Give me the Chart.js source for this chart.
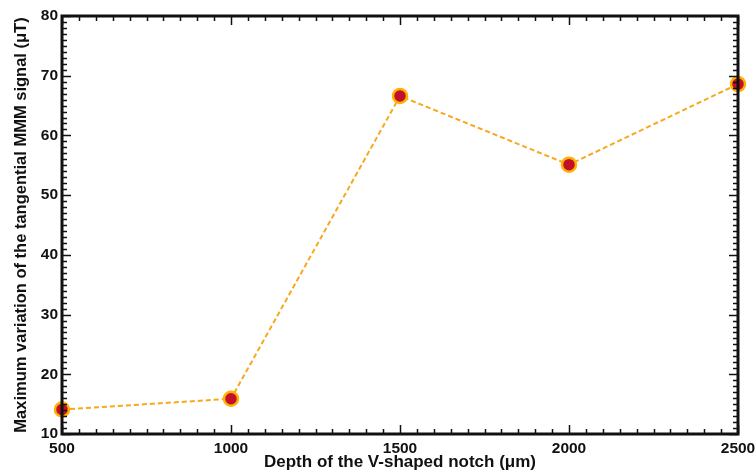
<!DOCTYPE html>
<html>
<head>
<meta charset="utf-8">
<script src="https://cdn.jsdelivr.net/npm/chart.js@4.4.0/dist/chart.umd.min.js"></script>
<style>
  html, body { margin: 0; padding: 0; background: #fff; }
  #box { width: 756px; height: 473px; }
</style>
</head>
<body>
<div id="box"><canvas id="grafico"></canvas></div>
<script>
// valores
const profundidades = [500, 1000, 1500, 2000, 2500];
const sinalMMM = [14.1, 15.9, 66.6, 55.1, 68.6];
const ticksX = [500, 1000, 1500, 2000, 2500];
const ticksY = [10, 20, 30, 40, 50, 60, 70, 80];

const fonte = 'Liberation Sans, Arial, Helvetica, sans-serif';

// moldura e ticks para dentro nos quatro lados
const molduraTicks = {
    id: 'molduraTicks',
    afterDraw(chart) {
        const ctx = chart.ctx;
        const sx = chart.scales.x;
        const sy = chart.scales.y;
        const esq = sx.getPixelForValue(sx.min), dir = sx.getPixelForValue(sx.max);
        const base = sy.getPixelForValue(sy.min), topo = sy.getPixelForValue(sy.max);
        ctx.save();
        ctx.strokeStyle = '#111';
        ctx.lineWidth = 1.5;
        ctx.beginPath();
        for (let v = sx.min; v <= sx.max; v += 50) {
            const px = Math.round(sx.getPixelForValue(v)) + 0.5;
            const len = (v % 500 === 0) ? 9 : 5;
            ctx.moveTo(px, base); ctx.lineTo(px, base - len);
            ctx.moveTo(px, topo); ctx.lineTo(px, topo + len);
        }
        for (let v = sy.min; v <= sy.max; v += 1) {
            const py = Math.round(sy.getPixelForValue(v)) + 0.5;
            const len = (v % 10 === 0) ? 9 : 5;
            ctx.moveTo(esq, py); ctx.lineTo(esq + len, py);
            ctx.moveTo(dir, py); ctx.lineTo(dir - len, py);
        }
        ctx.stroke();
        ctx.lineWidth = 3;
        ctx.strokeRect(esq, topo, dir - esq, base - topo);
        ctx.restore();
    }
};

const ctx = document.getElementById('grafico').getContext('2d');
new Chart(ctx, {
    type: 'scatter',
    data: {
        datasets: [{
            data: profundidades.map((d, i) => ({ x: d, y: sinalMMM[i] })),
            showLine: true,
            borderColor: '#f7a81b',
            borderWidth: 2,
            borderDash: [5, 3],
            pointBackgroundColor: '#c0102a',
            pointBorderColor: '#ffb000',
            pointBorderWidth: 2.5,
            pointRadius: 7,
            clip: false
        }]
    },
    options: {
        responsive: true,
        maintainAspectRatio: false,
        animation: false,
        layout: { padding: { top: 16, right: 18, left: 12, bottom: 0 } },
        plugins: {
            legend: { display: false },
            tooltip: { enabled: false }
        },
        scales: {
            x: {
                type: 'linear',
                min: 500,
                max: 2500,
                afterBuildTicks: (s) => { s.ticks = ticksX.map(v => ({ value: v })); },
                grid: { display: false, drawTicks: false },
                border: { display: false },
                ticks: {
                    color: '#111',
                    font: { family: fonte, size: 15.5, weight: 'bold' },
                    padding: 5,
                    callback: (v) => String(v)
                },
                title: {
                    display: true,
                    text: 'Depth of the V-shaped notch (\u03bcm)',
                    color: '#111',
                    font: { family: fonte, size: 17, weight: 'bold' },
                    padding: { top: 2, bottom: 0 }
                },
                afterFit: (s) => { s.height = 39; s.paddingLeft = 0; s.paddingRight = 0; }
            },
            y: {
                min: 10,
                max: 80,
                afterBuildTicks: (s) => { s.ticks = ticksY.map(v => ({ value: v })); },
                grid: { display: false, drawTicks: false },
                border: { display: false },
                ticks: {
                    color: '#111',
                    font: { family: fonte, size: 15.5, weight: 'bold' },
                    padding: 4
                },
                title: {
                    display: true,
                    text: 'Maximum variation of the tangential MMM signal (\u03bcT)',
                    color: '#111',
                    font: { family: fonte, size: 16.5, weight: 'bold' },
                    padding: { top: 0, bottom: 2 }
                },
                afterFit: (s) => { s.width = 50; s.paddingTop = 0; s.paddingBottom = 0; }
            }
        }
    },
    plugins: [molduraTicks]
});
</script>
</body>
</html>
